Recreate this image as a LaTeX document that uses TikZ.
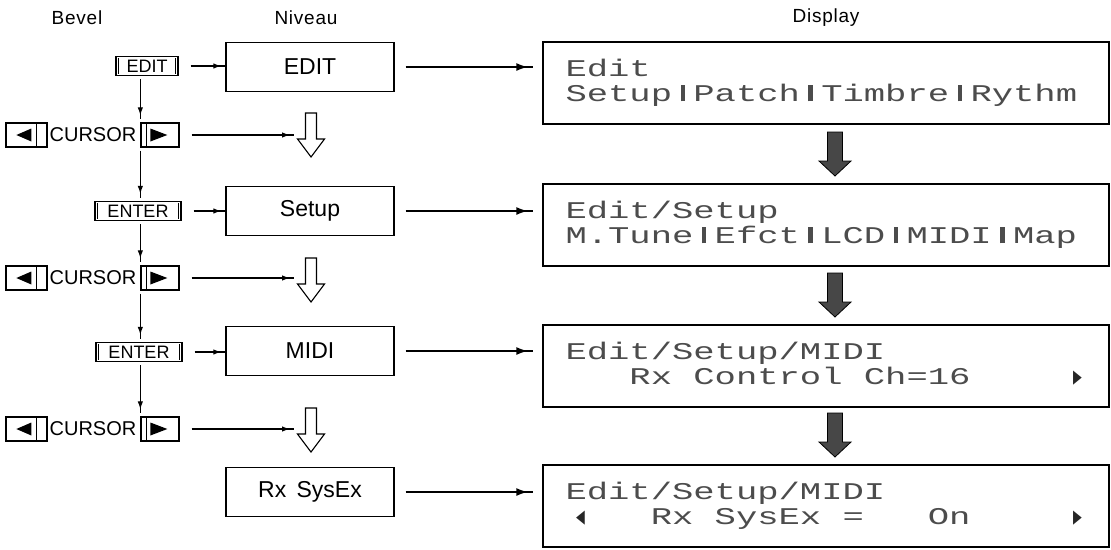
\documentclass[tikz,border=0pt]{standalone}
\usepackage{fontspec}
\usepackage{graphicx}
\setmainfont{Liberation Sans}
\newfontfamily\lcdfont[FakeStretch=1.48]{Liberation Mono}
\newfontfamily\hdrfont[LetterSpace=4]{Liberation Sans}
\newfontfamily\symfont{DejaVu Sans}
\usetikzlibrary{arrows.meta,decorations.markings,calc}
% one heavy block character of the LCD, one cell wide
\newcommand\lcdbar{\makebox[21.3pt][c]{\rule{4.5pt}{16pt}}}
% narrow LCD pointers
\newcommand\lcdright{\scalebox{0.6}[1.5]{►}}
\newcommand\lcdleft{\scalebox{0.6}[1.5]{◄}}

\tikzset{
  hollowarrow/.pic={
    \draw[line width=1.1pt, fill=white, line join=miter]
      (-5.5,0) -- (5.5,0) -- (5.5,26) -- (13.5,26) -- (0,44) -- (-13.5,26) -- (-5.5,26) -- cycle;
  },
  heavyarrow/.pic={
    \filldraw[fill=black!72, draw=black, line width=0.8pt, line join=miter]
      (-7.5,0) -- (7.5,0) -- (7.5,29) -- (16,29) -- (0,44) -- (-16,29) -- (-7.5,29) -- cycle;
  }
}

\begin{document}
\begin{tikzpicture}[x=1pt, y=-1pt,
  hdr/.style={font=\hdrfont\fontsize{19}{19}\selectfont, inner sep=0},
  lvl/.style={draw, line width=1.4pt, minimum width=168pt, minimum height=49pt,
               inner sep=0, font=\fontsize{23}{23}\selectfont},
  keycap/.style={draw, line width=1.3pt, minimum height=19pt, inner sep=0,
                 font=\fontsize{18}{18}\selectfont},
  arrowkey/.style={draw, line width=1.3pt, minimum height=24pt, inner sep=0},
  cursortxt/.style={font=\fontsize{20}{20}\selectfont, inner sep=0},
  disp/.style={draw, line width=1.3pt, minimum width=566pt, minimum height=82pt, inner sep=0},
  lcd/.style={anchor=base west, inner sep=0, font=\lcdfont\fontsize{24}{24}\selectfont, text=black!70},
  lcdsym/.style={anchor=base west, inner sep=0, font=\symfont\fontsize{19}{19}\selectfont, text=black!85},
  link/.style={line width=1.2pt, postaction={decorate},
    decoration={markings, mark=at position -4pt with {\arrow{Latex[length=8pt,width=5.5pt]}}}},
  biglink/.style={line width=2.4pt, postaction={decorate},
    decoration={markings, mark=at position -5pt with {\arrow{Latex[length=12pt,width=8pt]}}}}
]
\useasboundingbox (0,0) rectangle (1111,549);

% column headings
\node[hdr] (hB) at (77,18) {Bevel};
\node[hdr] (hN) at (306,18) {Niveau};
\node[hdr] (hD) at (826,18) {Display};

% menu levels
\node[lvl] (l1) at (310,67)  {EDIT};
\node[lvl] (l2) at (310,211) {Setup};
\node[lvl] (l3) at (310,351) {MIDI};
\node[lvl] (l4) at (310,492) {Rx\hspace{0.45em}SysEx};

% LCD displays
\node[disp] (d1) at (826,83)  {};
\node[disp] (d2) at (826,225) {};
\node[disp] (d3) at (826,366) {};
\node[disp] (d4) at (826,506) {};

\node[lcd] (t1a) at ($(d1.north west)+(23,35)$) {Edit};
\node[lcd] (t1b) at ($(d1.north west)+(23,60)$) {Setup\lcdbar Patch\lcdbar Timbre\lcdbar Rythm};
\node[lcd] (t2a) at ($(d2.north west)+(23,35)$) {Edit/Setup};
\node[lcd] (t2b) at ($(d2.north west)+(23,60)$) {M.Tune\lcdbar Efct\lcdbar LCD\lcdbar MIDI\lcdbar Map};
\node[lcd] (t3a) at ($(d3.north west)+(23,35)$) {Edit/Setup/MIDI};
\node[lcd] (t3b) at ($(d3.north west)+(86.9,60)$) {Rx Control Ch=16};
\node[lcdsym, anchor=base east] (t3r) at ($(d3.north west)+(540,61)$) {\lcdright};
\node[lcd] (t4a) at ($(d4.north west)+(23,35)$) {Edit/Setup/MIDI};
\node[lcdsym] (t4l) at ($(d4.north west)+(34,61)$) {\lcdleft};
\node[lcd] (t4b) at ($(d4.north west)+(108.2,60)$) {Rx SysEx =~~~On};
\node[lcdsym, anchor=base east] (t4r) at ($(d4.north west)+(540,61)$) {\lcdright};

% front panel keys
\node[keycap, minimum width=62pt] (k1) at (147,66)  {EDIT};
\node[keycap, minimum width=86pt] (k2) at (138,211) {ENTER};
\node[keycap, minimum width=86pt] (k3) at (139,352) {ENTER};
\foreach \k in {k1,k2,k3} {
  \draw[line width=0.6pt] ($(\k.north west)+(3,2)$) -- ($(\k.south west)+(3,-2)$);
  \draw[line width=0.6pt] ($(\k.north east)+(-3,2)$) -- ($(\k.south east)+(-3,-2)$);
}

\foreach \i/\y in {1/135, 2/278, 3/429} {
  \node[arrowkey, minimum width=41pt] (cl\i) at (26.5,\y) {};
  \node[cursortxt] (ct\i) at (93,\y) {CURSOR};
  \node[arrowkey, minimum width=38pt] (cr\i) at (160,\y) {};
  \draw[line width=0.8pt] ($(cl\i.north east)+(-11,0)$) -- ($(cl\i.south east)+(-11,0)$);
  \fill ($(cl\i.west)+(11,0)$) -- ($(cl\i.west)+(26,-6.5)$) -- ($(cl\i.west)+(26,6.5)$) -- cycle;
  \draw[line width=0.8pt] ($(cr\i.north west)+(6,0)$) -- ($(cr\i.south west)+(6,0)$);
  \fill ($(cr\i.west)+(27,0)$) -- ($(cr\i.west)+(10,-6.5)$) -- ($(cr\i.west)+(10,6.5)$) -- cycle;
}

% hollow step arrows between levels
\pic at (311,113) {hollowarrow};
\pic at (311,258) {hollowarrow};
\pic at (311,408) {hollowarrow};
\coordinate (h1) at (294,135);
\coordinate (h2) at (294,278);
\coordinate (h3) at (294,429);

% heavy arrows between displays
\pic at (835,132) {heavyarrow};
\pic at (835,273) {heavyarrow};
\pic at (835,413) {heavyarrow};

% key -> level
\draw[link] ($(k1.east)+(12,0)$) -- (k1.east -| l1.west);
\draw[link] ($(k2.east)+(12,0)$) -- (k2.east -| l2.west);
\draw[link] ($(k3.east)+(12,0)$) -- (k3.east -| l3.west);

% cursor keys -> hollow arrows
\draw[link] ($(cr1.east)+(12,0)$) -- (h1);
\draw[link] ($(cr2.east)+(12,0)$) -- (h2);
\draw[link] ($(cr3.east)+(12,0)$) -- (h3);

% key sequence
\draw[link] ($(k1.south -| cr1.north west)+(0,3)$) -- ($(cr1.north west)+(0,-3)$);
\draw[link] ($(cr1.south west)+(0,3)$) -- ($(k2.north -| cr1.south west)+(0,-3)$);
\draw[link] ($(k2.south -| cr2.north west)+(0,3)$) -- ($(cr2.north west)+(0,-3)$);
\draw[link] ($(cr2.south west)+(0,3)$) -- ($(k3.north -| cr2.south west)+(0,-3)$);
\draw[link] ($(k3.south -| cr3.north west)+(0,3)$) -- ($(cr3.north west)+(0,-3)$);

% level -> display
\draw[biglink] ($(l1.east)+(11,0)$) -- ($(l1.east -| d1.west)+(-9,0)$);
\draw[biglink] ($(l2.east)+(11,0)$) -- ($(l2.east -| d2.west)+(-9,0)$);
\draw[biglink] ($(l3.east)+(11,0)$) -- ($(l3.east -| d3.west)+(-9,0)$);
\draw[biglink] ($(l4.east)+(11,0)$) -- ($(l4.east -| d4.west)+(-9,0)$);
\end{tikzpicture}
\end{document}
